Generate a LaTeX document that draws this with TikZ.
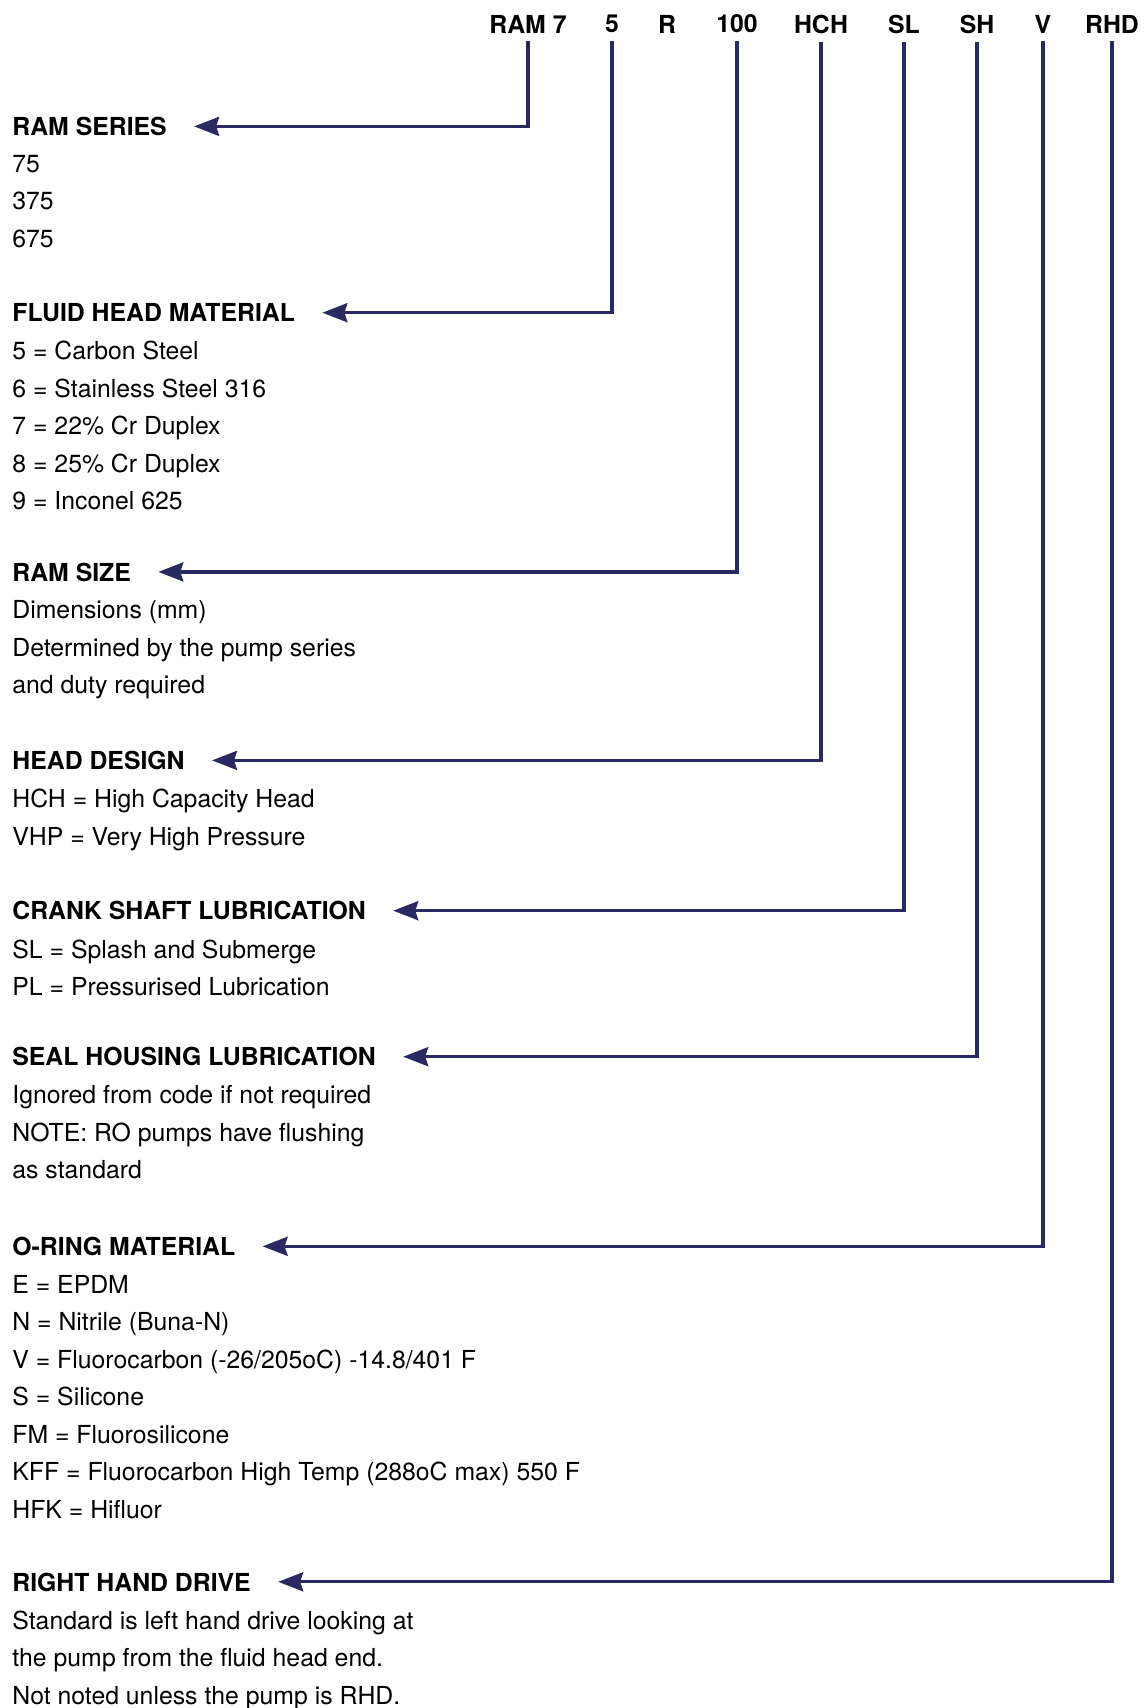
\documentclass[tikz,border=0pt]{standalone}
\usepackage{fontspec}
\setmainfont{TeX Gyre Heros}
\usepackage{tikz}
\usetikzlibrary{arrows.meta, positioning, calc}
\definecolor{navy}{HTML}{2A2A62}

\begin{document}
\begin{tikzpicture}[
    x=0.5pt, y=-0.5pt,
    code/.style={font=\fontsize{12.4}{15}\selectfont\bfseries, inner xsep=0pt, inner ysep=4pt, text depth=0pt},
    head/.style={anchor=west, inner sep=0pt, text depth=0pt, font=\fontsize{12.4}{15}\selectfont\bfseries},
    body/.style={anchor=north west, inner sep=0pt, align=left, font=\fontsize{12.4}{18.75}\selectfont, execute at begin node=\strut},
    arrow/.style={-{Stealth[length=12.5pt, width=9.5pt, inset=1.5pt]}, draw=navy, line width=1.65pt, shorten >=13.5pt}
  ]
    \useasboundingbox (0,0) rectangle (1145,1708);

    % code letters along the top
    \node[code] (cRam) at (528,24) {RAM 7};
    \node[code] (cFluid) at (612,24) {5};
    \node[code] (cR) at (667,24) {R};
    \node[code] (cSize) at (737,24) {100};
    \node[code] (cHead) at (821,24) {HCH};
    \node[code] (cCrank) at (904,24) {SL};
    \node[code] (cSeal) at (977,24) {SH};
    \node[code] (cRing) at (1043,24) {V};
    \node[code] (cDrive) at (1112,24) {RHD};

    % headings
    \node[head] (hSeries) at (12,126.4) {RAM SERIES};
    \node[head] (hFluid) at (12,312.7) {FLUID HEAD MATERIAL};
    \node[head] (hSize) at (12,571.9) {RAM SIZE};
    \node[head] (hHead) at (12,760.4) {HEAD DESIGN};
    \node[head] (hCrank) at (12,910.7) {CRANK SHAFT LUBRICATION};
    \node[head] (hSeal) at (12,1056.7) {SEAL HOUSING LUBRICATION};
    \node[head] (hRing) at (12,1246.3) {O-RING MATERIAL};
    \node[head] (hDrive) at (12,1581.8) {RIGHT HAND DRIVE};

    % option lists (first baseline 37.5px under the heading)
    \node[body] (bSeries) at ($(hSeries.base west)+(0,19.25)$) {75\\375\\675};
    \node[body] (bFluid) at ($(hFluid.base west)+(0,19.25)$) {5 = Carbon Steel\\6 = Stainless Steel 316\\7 = 22\% Cr Duplex\\8 = 25\% Cr Duplex\\9 = Inconel 625};
    \node[body] (bSize) at ($(hSize.base west)+(0,19.25)$) {Dimensions (mm)\\Determined by the pump series\\and duty required};
    \node[body] (bHead) at ($(hHead.base west)+(0,19.25)$) {HCH = High Capacity Head\\VHP = Very High Pressure};
    \node[body] (bCrank) at ($(hCrank.base west)+(0,19.25)$) {SL = Splash and Submerge\\PL = Pressurised Lubrication};
    \node[body] (bSeal) at ($(hSeal.base west)+(0,19.25)$) {Ignored from code if not required\\NOTE: RO pumps have flushing\\as standard};
    \node[body] (bRing) at ($(hRing.base west)+(0,19.25)$) {E = EPDM\\N = Nitrile (Buna-N)\\V = Fluorocarbon (-26/205oC) -14.8/401 F\\S = Silicone\\FM = Fluorosilicone\\KFF = Fluorocarbon High Temp (288oC max) 550 F\\HFK = Hifluor};
    \node[body] (bDrive) at ($(hDrive.base west)+(0,19.25)$) {Standard is left hand drive looking at\\the pump from the fluid head end.\\Not noted unless the pump is RHD.};

    \draw[arrow] (cRam) |- (hSeries);
    \draw[arrow] (cFluid) |- (hFluid);
    \draw[arrow] (cSize) |- (hSize);
    \draw[arrow] (cHead) |- (hHead);
    \draw[arrow] (cCrank) |- (hCrank);
    \draw[arrow] (cSeal) |- (hSeal);
    \draw[arrow] (cRing) |- (hRing);
    \draw[arrow] (cDrive) |- (hDrive);
  \end{tikzpicture}
\end{document}
